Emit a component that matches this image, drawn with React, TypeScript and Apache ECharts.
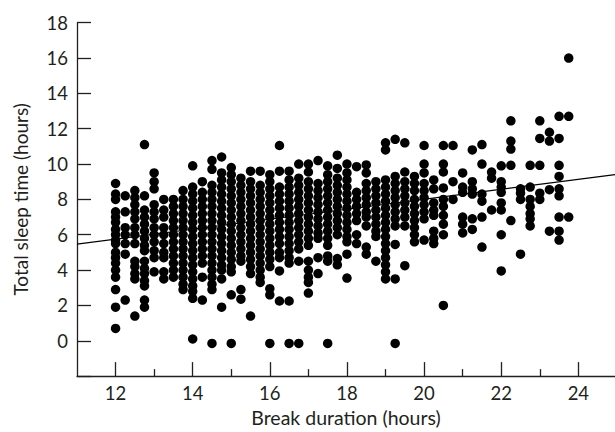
import React, { useEffect, useRef } from "react";
import * as echarts from "echarts";

// Break duration columns are recorded in quarter-hour steps
const quarterOffsets = [0, 0.25, 0.5, 0.75];

// Total sleep time (hours) for each quarter-hour column, grouped by whole hour
const sleep12 = [
  [8.9, 8.3, 8.0, 7.3, 7.0, 6.7, 6.3, 6.0, 5.7, 5.5, 5.0, 4.7, 4.4, 4.0, 3.6, 2.9, 1.9, 0.7],
  [8.2, 7.3, 6.4, 6.0, 5.5, 4.9, 2.3],
  [8.5, 8.1, 7.7, 7.3, 6.9, 6.4, 6.0, 5.5, 4.5, 4.2, 3.8, 3.5, 1.4],
  [11.1, 8.2, 7.4, 7.0, 6.6, 6.2, 5.8, 5.4, 5.1, 4.5, 4.1, 3.8, 3.4, 3.1, 2.3, 1.9],
];
const sleep13 = [
  [9.5, 9.0, 8.6, 7.7, 7.3, 6.9, 6.4, 6.0, 5.6, 5.1, 4.7, 3.9],
  [8.0, 7.4, 7.0, 6.4, 6.0, 5.5, 5.0, 4.7, 3.9, 3.5],
  [8.0, 7.6, 7.2, 6.8, 6.4, 6.0, 5.6, 5.2, 4.8, 4.4, 4.0, 3.6],
  [8.5, 8.0, 7.6, 7.2, 6.8, 6.4, 6.0, 5.6, 5.2, 4.8, 4.4, 4.0, 3.6, 3.2, 2.9],
];
const sleep14 = [
  [9.9, 8.7, 8.3, 7.9, 7.5, 7.1, 6.7, 6.3, 5.9, 5.5, 5.1, 4.7, 4.3, 3.9, 3.5, 3.1, 2.8, 2.4, 0.1],
  [9.0, 8.4, 8.0, 7.6, 7.2, 6.8, 6.4, 6.0, 5.6, 5.2, 4.8, 4.4, 3.6, 2.3],
  [10.2, 9.7, 8.8, 8.4, 8.0, 7.6, 7.2, 6.8, 6.4, 6.0, 5.6, 5.2, 4.8, 4.4, 4.0, 3.6, 3.2, 2.9, -0.15],
  [10.4, 9.5, 9.1, 8.7, 8.3, 7.9, 7.5, 7.1, 6.7, 6.3, 5.9, 5.5, 5.1, 4.7, 4.3, 4.0, 3.5, 1.9],
];
const sleep15 = [
  [9.8, 9.4, 9.0, 8.6, 8.2, 7.8, 7.4, 7.0, 6.6, 6.2, 5.8, 5.4, 5.0, 4.6, 4.2, 3.9, 2.6, -0.15],
  [9.2, 8.8, 8.4, 8.0, 7.6, 7.2, 6.8, 6.4, 6.0, 5.6, 5.2, 4.8, 4.5, 2.9, 2.35],
  [9.6, 9.0, 8.6, 8.2, 7.8, 7.4, 7.0, 6.6, 6.2, 5.8, 5.4, 5.0, 4.6, 4.2, 3.8, 1.4],
  [9.6, 8.8, 8.4, 8.0, 7.6, 7.2, 6.8, 6.4, 6.0, 5.6, 5.2, 4.8, 4.4, 4.0, 3.6, 3.3],
];
const sleep16 = [
  [9.4, 9.0, 8.6, 8.2, 7.8, 7.4, 7.0, 6.6, 6.2, 5.8, 5.4, 5.0, 4.6, 4.2, 2.95, 2.6, -0.15],
  [11.05, 9.6, 8.7, 8.3, 7.9, 7.5, 7.1, 6.7, 6.3, 5.9, 5.5, 5.0, 4.7, 3.95, 2.25],
  [9.6, 9.1, 8.7, 8.3, 7.9, 7.5, 7.1, 6.7, 6.3, 5.9, 5.5, 5.1, 4.7, 4.4, 2.25, -0.15],
  [10.0, 9.2, 8.8, 8.4, 8.0, 7.6, 7.2, 6.8, 6.4, 6.0, 5.6, 5.2, 4.5, -0.15],
];
const sleep17 = [
  [10.0, 9.55, 9.0, 8.6, 8.2, 7.8, 7.4, 7.0, 6.6, 6.2, 5.8, 5.4, 4.5, 4.0, 3.6, 3.3, 2.7],
  [10.2, 8.9, 8.5, 8.1, 7.7, 7.3, 6.9, 6.5, 6.1, 5.8, 4.7, 3.8],
  [9.9, 9.4, 9.0, 8.6, 8.2, 7.8, 7.4, 7.0, 6.6, 6.2, 5.8, 5.4, 4.8, 4.5, -0.15],
  [10.5, 9.75, 9.2, 8.8, 8.4, 8.0, 7.6, 7.2, 6.8, 6.4, 6.0, 4.65, 4.3],
];
const sleep18 = [
  [10.0, 9.5, 9.1, 8.7, 8.3, 7.9, 7.5, 7.1, 6.7, 6.3, 5.9, 5.6, 4.9, 3.55],
  [9.85, 8.4, 8.0, 7.6, 7.2, 6.8, 6.0, 5.5],
  [9.95, 9.5, 8.9, 8.5, 8.1, 7.7, 7.3, 7.0, 6.5, 5.3, 4.9],
  [9.0, 8.6, 8.2, 7.8, 7.4, 7.0, 6.6, 6.2, 5.9, 4.5],
];
const sleep19 = [
  [11.2, 10.8, 9.1, 8.7, 8.3, 7.9, 7.5, 7.1, 6.7, 6.3, 5.9, 5.5, 5.1, 4.7, 4.3, 3.9, 3.5],
  [11.4, 9.3, 8.9, 8.5, 8.1, 7.7, 7.3, 6.9, 6.5, 5.45, 3.5, -0.15],
  [11.2, 9.55, 9.0, 8.6, 8.2, 7.8, 7.4, 7.0, 6.5, 4.25],
  [9.3, 8.9, 8.5, 8.0, 7.6, 7.2, 6.8, 6.4, 6.0, 5.6],
];
const sleep20 = [
  [11.05, 10.0, 9.5, 8.9, 8.5, 8.1, 7.7, 7.3, 6.9, 5.7],
  [9.1, 8.6, 7.8, 7.4, 7.1, 6.2, 5.8, 5.5],
  [11.05, 10.0, 9.55, 8.65, 8.0, 7.6, 7.1, 6.6, 6.0, 2.0],
  [11.05, 9.0, 8.0],
];
const sleep21 = [
  [9.5, 8.7, 8.4, 7.0, 6.6, 6.1],
  [10.8, 9.0, 8.6, 8.3, 6.9, 6.3],
  [11.1, 10.0, 8.3, 7.9, 7.0, 5.3],
  [9.55, 9.2, 7.4],
];
const sleep22 = [
  [9.9, 9.0, 8.7, 8.4, 7.8, 7.4, 6.0, 3.95],
  [12.45, 11.3, 10.85, 9.93, 6.8],
  [8.6, 8.35, 8.0, 4.9],
  [9.93, 8.7, 8.0, 7.6, 7.2, 6.9, 6.5],
];
const sleep23 = [
  [12.45, 11.45, 9.93, 8.35, 8.0],
  [11.8, 11.3, 8.55, 6.2],
  [12.7, 11.45, 9.93, 9.3, 8.6, 8.2, 7.0, 6.2, 5.7],
  [16.0, 12.7, 7.0],
];

const wholeHours = [12, 13, 14, 15, 16, 17, 18, 19, 20, 21, 22, 23];
const sleepByHour = [sleep12, sleep13, sleep14, sleep15, sleep16, sleep17, sleep18, sleep19, sleep20, sleep21, sleep22, sleep23];

// Fitted regression line end points
const fitLineX = [11, 24.95];
const fitLineY = [5.47, 9.4];

// Axis ticks and labels
const xMajorTicks = [12, 14, 16, 18, 20, 22, 24];
const xMinorTicks = [13, 15, 17, 19, 21, 23];
const yTicks = [-2, 0, 2, 4, 6, 8, 10, 12, 14, 16, 18];
const yLabels = [0, 2, 4, 6, 8, 10, 12, 14, 16, 18];

const FONT = "Lato, 'Open Sans', sans-serif";
const INK = "#231f20";

export default function App() {
  const ref = useRef<HTMLDivElement>(null);

  useEffect(() => {
    if (!ref.current) return;
    const chart = echarts.init(ref.current, undefined, { renderer: "svg" });

    const points: number[][] = [];
    wholeHours.forEach((h, hi) => {
      sleepByHour[hi].forEach((col, qi) => {
        col.forEach((v) => points.push([h + quarterOffsets[qi], v]));
      });
    });

    const axisLine = { show: true, onZero: false, lineStyle: { color: INK, width: 1.3 } };

    chart.setOption({
      animation: false,
      backgroundColor: "#ffffff",
      grid: { left: 77, right: 0, top: 22.7, bottom: 52.3, containLabel: false },
      xAxis: [
        {
          type: "value",
          min: 11,
          max: 24.95,
          position: "bottom",
          axisLine,
          splitLine: { show: false },
          axisTick: {
            show: true,
            inside: true,
            length: 14,
            customValues: xMajorTicks,
            lineStyle: { color: INK, width: 1.3 },
          },
          axisLabel: {
            customValues: xMajorTicks,
            margin: 7,
            color: INK,
            fontFamily: FONT,
            fontSize: 18.5,
          },
          name: "Break duration (hours)",
          nameLocation: "middle",
          nameGap: 30,
          nameTextStyle: { color: INK, fontFamily: FONT, fontSize: 19.5 },
        },
        {
          type: "value",
          min: 11,
          max: 24.95,
          position: "bottom",
          axisLine: { show: false, onZero: false },
          splitLine: { show: false },
          axisTick: {
            show: true,
            inside: true,
            length: 7,
            customValues: xMinorTicks,
            lineStyle: { color: INK, width: 1.3 },
          },
          axisLabel: { show: false },
        },
      ],
      yAxis: {
        type: "value",
        min: -2,
        max: 18,
        interval: 2,
        axisLine,
        splitLine: { show: false },
        axisTick: {
          show: true,
          inside: true,
          length: 14,
          customValues: yTicks,
          lineStyle: { color: INK, width: 1.3 },
        },
        axisLabel: {
          customValues: yLabels,
          margin: 9,
          color: INK,
          fontFamily: FONT,
          fontSize: 18.5,
        },
        name: "Total sleep time (hours)",
        nameLocation: "middle",
        nameGap: 47,
        nameTextStyle: { color: INK, fontFamily: FONT, fontSize: 19 },
      },
      series: [
        {
          type: "line",
          data: fitLineX.map((x, i) => [x, fitLineY[i]]),
          symbol: "none",
          lineStyle: { color: "#000", width: 1.2 },
          z: 1,
        },
        {
          type: "scatter",
          data: points,
          symbol: "circle",
          symbolSize: 9.5,
          itemStyle: { color: "#000", opacity: 1 },
          z: 2,
        },
      ],
    });

    return () => chart.dispose();
  }, []);

  return (
    <div
      ref={ref}
      style={{ position: "fixed", left: 0, top: 0, width: 615, height: 432, background: "#fff" }}
    />
  );
}
